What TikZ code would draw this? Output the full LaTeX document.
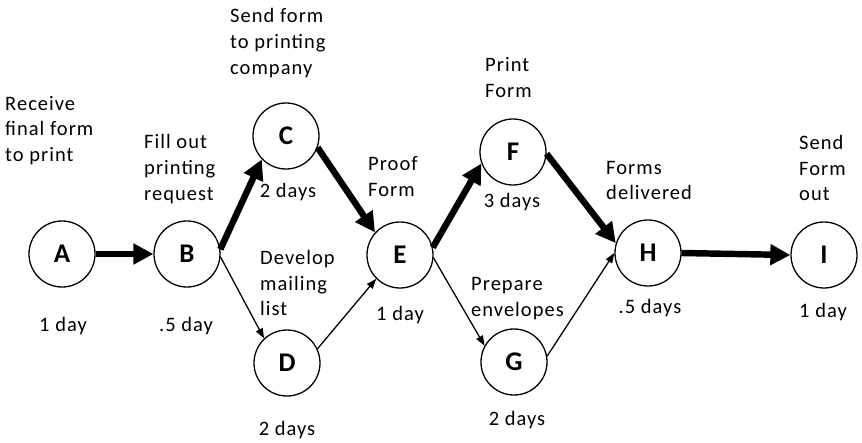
\documentclass[tikz,border=0pt]{standalone}
\usepackage{fontspec}
\setmainfont{Carlito}[LetterSpace=5]
\usetikzlibrary{arrows.meta,positioning}
\tikzset{
  act/.style={draw, circle, line width=1.1pt, minimum size=1.98cm, inner sep=0pt,
    font=\fontsize{23}{23}\selectfont\bfseries},
  actlabel/.style={anchor=west, align=left, inner sep=0pt,
    font=\fontsize{17.5}{21.8}\selectfont},
  dur/.style={inner sep=0pt, font=\fontsize{17.5}{21.8}\selectfont},
  critpath/.style={line width=5.5pt, -{Triangle[length=0.6cm,width=0.6cm]}},
  link/.style={line width=1.1pt, -{Triangle[length=0.3cm,width=0.22cm]}},
}
\begin{document}
\begin{tikzpicture}[x=0.03cm, y=-0.03cm]
\useasboundingbox (0,0) rectangle (862,442);

% activities
\node[act] (a) at (62,254)  {A};
\node[act] (b) at (187,254) {B};
\node[act] (c) at (286,136) {C};
\node[act] (d) at (287,363) {D};
\node[act] (e) at (400,255) {E};
\node[act] (f) at (513,152) {F};
\node[act] (g) at (514,362) {G};
\node[act] (h) at (648,253) {H};
\node[act] (i) at (824,255) {I};

% what each activity is
\node[actlabel] (la) at (5,130.5)  {Receive\\final form\\to print};
\node[actlabel] (lb) at (144,169)  {Fill out\\printing\\request};
\node[actlabel] (lc) at (230,43)   {Send form\\to printing\\company};
\node[actlabel] (ld) at (260,283)  {Develop\\mailing\\list};
\node[actlabel] (le) at (368,176.5){Proof\\Form};
\node[actlabel] (lf) at (485,77.5) {Print\\Form};
\node[actlabel] (lg) at (471,298.5){Prepare\\envelopes};
\node[actlabel] (lh) at (606,180.5){Forms\\delivered};
\node[actlabel] (li) at (799,168)  {Send\\Form\\out};

% durations
\node[dur] (da) at (63,326)  {1 day};
\node[dur] (db) at (186,326) {.5 day};
\node[dur] (dc) at (288,192) {2 days};
\node[dur] (dd) at (287,430) {2 days};
\node[dur] (de) at (400,315) {1 day};
\node[dur] (df) at (512,202) {3 days};
\node[dur] (dg) at (517,420) {2 days};
\node[dur] (dh) at (650,308) {.5 days};
\node[dur] (di) at (823,312) {1 day};

% ---- critical path (thick) ----
\draw[critpath] (a.east) -- (b.west);
\draw[critpath] (b.8) -- (c.224);
\draw[critpath] (c.-20) -- (e.138);
\draw[critpath] (e.13) -- (f.200);
\draw[critpath] (f.-3) -- (h.163);
\draw[critpath] (h.east) -- (i.west);

% ---- other links (thin) ----
\draw[link] (b.-5) -- (d.133);
\draw[link] (d.25) -- (e.225);
\draw[link] (e.-5) -- (g.151);
\draw[link] (g.10) -- (h.west);

\end{tikzpicture}
\end{document}
